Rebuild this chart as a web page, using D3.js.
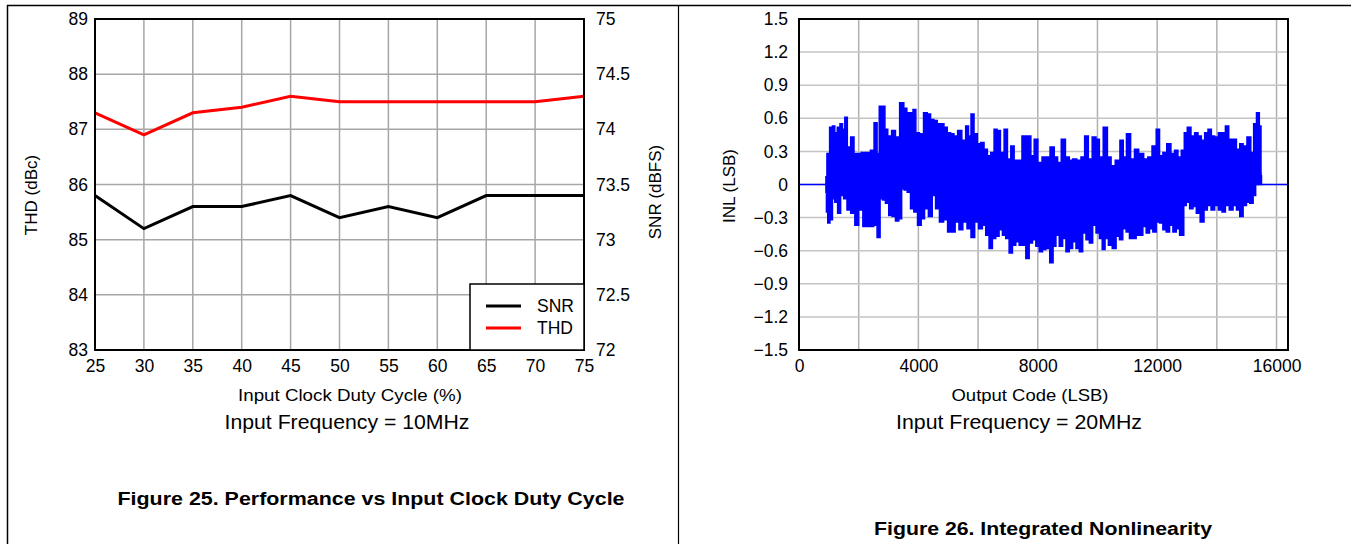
<!DOCTYPE html>
<html>
<head>
<meta charset="utf-8">
<script src="https://cdn.jsdelivr.net/npm/d3@7"></script>
<style>
  html, body { margin: 0; padding: 0; background: #fff; }
  svg { display: block; font-family: "Liberation Sans", Arial, sans-serif; }
</style>
</head>
<body>
<svg id="chart" width="1351" height="544"></svg>
<script>
// ---------- Figure 25 data ----------
const dutyCycle = [25, 30, 35, 40, 45, 50, 55, 60, 65, 70, 75];
const thdValues = [87.3, 86.9, 87.3, 87.4, 87.6, 87.5, 87.5, 87.5, 87.5, 87.5, 87.6];
const snrValues = [73.4, 73.1, 73.3, 73.3, 73.4, 73.2, 73.3, 73.2, 73.4, 73.4, 73.4];
const thdTicks = [83, 84, 85, 86, 87, 88, 89];
const snrTicks = [72, 72.5, 73, 73.5, 74, 74.5, 75];
const seriesNames = ["SNR", "THD"];

// ---------- Figure 26 data (INL envelope) ----------
const inlCodeTicks = [0, 4000, 8000, 12000, 16000];
const inlCodeGrid = [2000, 4000, 6000, 8000, 10000, 12000, 14000, 16000];
const inlTicks = [-1.5, -1.2, -0.9, -0.6, -0.3, 0, 0.3, 0.6, 0.9, 1.2, 1.5];
const inlFlatLeft = [0, 902];
const inlFlatRight = [15496, 16384];
const inlUpperCode = [902,970,1082,1160,1238,1328,1418,1496,1574,1664,1798,1888,2000,2168,2336,2448,2582,2650,2728,2840,2918,3030,3176,3288,3456,3568,3658,3770,3870,3960,4106,4240,4352,4464,4576,4688,4800,4912,5024,5136,5248,5382,5528,5640,5718,5808,5920,6032,6144,6256,6368,6480,6592,6682,6816,6928,7040,7152,7264,7398,7544,7712,7824,7936,8070,8216,8328,8496,8608,8720,8854,9000,9112,9224,9392,9504,9638,9750,9896,10008,10120,10266,10400,10512,10680,10826,10904,11038,11184,11296,11464,11632,11744,11912,12024,12136,12248,12394,12528,12640,12752,12864,12954,13066,13200,13312,13424,13536,13648,13760,13872,13984,14118,14230,14342,14454,14600,14712,14824,14936,15082,15194,15272,15384,15462,15496];
const inlUpper = [0.07,0.28,0.52,0.53,0.47,0.52,0.55,0.50,0.61,0.34,0.43,0.28,0.28,0.29,0.29,0.31,0.56,0.28,0.71,0.71,0.50,0.44,0.49,0.43,0.74,0.69,0.65,0.65,0.68,0.47,0.46,0.65,0.64,0.59,0.58,0.55,0.55,0.52,0.47,0.46,0.44,0.49,0.40,0.53,0.44,0.64,0.46,0.37,0.38,0.32,0.26,0.29,0.50,0.49,0.29,0.50,0.23,0.35,0.22,0.22,0.44,0.44,0.26,0.41,0.20,0.25,0.25,0.34,0.25,0.20,0.41,0.25,0.22,0.23,0.22,0.25,0.44,0.23,0.43,0.41,0.25,0.52,0.25,0.17,0.22,0.40,0.25,0.46,0.23,0.32,0.28,0.23,0.25,0.35,0.50,0.26,0.29,0.37,0.28,0.31,0.25,0.31,0.47,0.52,0.44,0.47,0.44,0.40,0.47,0.50,0.44,0.43,0.47,0.47,0.53,0.41,0.41,0.32,0.37,0.35,0.43,0.29,0.55,0.65,0.53,0.08];
const inlLowerCode = [902,936,992,1082,1160,1238,1350,1440,1552,1664,1798,1944,2056,2224,2336,2448,2560,2672,2762,2840,2952,3064,3176,3288,3400,3478,3568,3680,3792,3904,4038,4150,4262,4408,4520,4632,4778,4912,5046,5158,5304,5416,5562,5696,5830,5942,6088,6200,6312,6424,6536,6648,6760,6872,6984,7096,7208,7320,7432,7544,7656,7768,7880,7992,8104,8216,8328,8474,8552,8664,8776,8888,9000,9112,9224,9336,9448,9560,9672,9784,9896,10008,10120,10198,10310,10422,10568,10680,10792,10904,11016,11128,11240,11352,11464,11576,11688,11800,11912,12024,12136,12248,12360,12472,12584,12696,12808,12864,12920,13032,13144,13256,13368,13514,13626,13738,13872,13984,14118,14230,14342,14488,14600,14712,14824,14936,15048,15160,15272,15328,15440,15496];
const inlLower = [-0.07,-0.25,-0.35,-0.32,-0.13,-0.16,-0.26,-0.10,-0.13,-0.23,-0.26,-0.37,-0.23,-0.38,-0.38,-0.38,-0.37,-0.48,-0.13,-0.14,-0.17,-0.28,-0.29,-0.33,-0.31,-0.04,-0.05,-0.07,-0.22,-0.25,-0.37,-0.31,-0.22,-0.29,-0.10,-0.22,-0.34,-0.32,-0.43,-0.43,-0.34,-0.41,-0.34,-0.40,-0.48,-0.34,-0.40,-0.37,-0.46,-0.58,-0.49,-0.47,-0.41,-0.46,-0.49,-0.62,-0.55,-0.52,-0.55,-0.55,-0.67,-0.53,-0.50,-0.56,-0.61,-0.59,-0.58,-0.71,-0.56,-0.46,-0.56,-0.49,-0.61,-0.58,-0.52,-0.58,-0.61,-0.44,-0.50,-0.53,-0.37,-0.44,-0.49,-0.59,-0.49,-0.55,-0.58,-0.47,-0.50,-0.40,-0.43,-0.49,-0.49,-0.46,-0.46,-0.38,-0.44,-0.40,-0.43,-0.34,-0.35,-0.41,-0.43,-0.37,-0.43,-0.40,-0.46,-0.46,-0.19,-0.16,-0.22,-0.20,-0.26,-0.34,-0.23,-0.19,-0.23,-0.19,-0.23,-0.25,-0.19,-0.23,-0.19,-0.23,-0.29,-0.19,-0.16,-0.17,-0.10,0.02,0.10,0.00];

const svg = d3.select("#chart");
const FONT = "Liberation Sans, Arial, sans-serif";

// ---------- Frame ----------
svg.append("line").attr("x1", 7).attr("x2", 1351).attr("y1", 5.5).attr("y2", 5.5).attr("stroke", "#000").attr("stroke-width", 1.5);
svg.append("line").attr("x1", 7.5).attr("x2", 7.5).attr("y1", 5).attr("y2", 544).attr("stroke", "#000").attr("stroke-width", 1.5);
svg.append("line").attr("x1", 678.5).attr("x2", 678.5).attr("y1", 5).attr("y2", 544).attr("stroke", "#000").attr("stroke-width", 1.2);

// ---------- Figure 25 ----------
(function () {
  const L = 95, R = 584, T = 19, B = 350;
  const x = d3.scaleLinear().domain([25, 75]).range([L, R]);
  const yL = d3.scaleLinear().domain([83, 89]).range([B, T]);
  const yR = d3.scaleLinear().domain([72, 75]).range([B, T]);
  const g = svg.append("g");

  g.append("g").selectAll("line").data(dutyCycle).join("line")
    .attr("x1", d => x(d)).attr("x2", d => x(d)).attr("y1", T).attr("y2", B)
    .attr("stroke", "#a6a6a6").attr("stroke-width", 1.5);
  g.append("g").selectAll("line").data(thdTicks).join("line")
    .attr("x1", L).attr("x2", R).attr("y1", d => yL(d)).attr("y2", d => yL(d))
    .attr("stroke", "#a6a6a6").attr("stroke-width", 1.5);

  const ax = g.append("g").attr("transform", `translate(0,${B})`)
    .call(d3.axisBottom(x).tickValues(dutyCycle).tickSize(0).tickPadding(10).tickFormat(d3.format("d")));
  const ayl = g.append("g").attr("transform", `translate(${L},0)`)
    .call(d3.axisLeft(yL).tickValues(thdTicks).tickSize(0).tickPadding(7).tickFormat(d3.format("d")));
  const ayr = g.append("g").attr("transform", `translate(${R},0)`)
    .call(d3.axisRight(yR).tickValues(snrTicks).tickSize(0).tickPadding(12).tickFormat(d => d3.format("")(d)));
  [ax, ayl, ayr].forEach(a => {
    a.select(".domain").remove();
    a.selectAll("text").attr("font-size", 17.5).attr("font-family", FONT).attr("fill", "#000");
  });

  const lineThd = d3.line().x((d, i) => x(dutyCycle[i])).y(d => yL(d));
  const lineSnr = d3.line().x((d, i) => x(dutyCycle[i])).y(d => yR(d));
  g.append("path").datum(thdValues).attr("d", lineThd).attr("fill", "none").attr("stroke", "#ff0000").attr("stroke-width", 3);
  g.append("path").datum(snrValues).attr("d", lineSnr).attr("fill", "none").attr("stroke", "#000").attr("stroke-width", 3);

  g.append("rect").attr("x", L).attr("y", T).attr("width", R - L).attr("height", B - T)
    .attr("fill", "none").attr("stroke", "#000").attr("stroke-width", 2);

  const lg = g.append("g");
  lg.append("rect").attr("x", 470).attr("y", 284).attr("width", R - 470).attr("height", B - 284)
    .attr("fill", "#fff").attr("stroke", "#000").attr("stroke-width", 1.5);
  const colors = ["#000", "#ff0000"];
  seriesNames.forEach((n, i) => {
    const yy = 306 + i * 22;
    lg.append("line").attr("x1", 486).attr("x2", 521).attr("y1", yy).attr("y2", yy)
      .attr("stroke", colors[i]).attr("stroke-width", 3);
    lg.append("text").attr("x", 537).attr("y", yy + 6).attr("font-size", 17.5).attr("font-family", FONT).text(n);
  });

  g.append("text").attr("transform", `translate(37,195) rotate(-90)`).attr("text-anchor", "middle")
    .attr("font-size", 17).attr("font-family", FONT).text("THD (dBc)");
  g.append("text").attr("transform", `translate(661,192) rotate(-90)`).attr("text-anchor", "middle")
    .attr("font-size", 17).attr("font-family", FONT).text("SNR (dBFS)");
  g.append("text").attr("x", 350).attr("y", 401).attr("text-anchor", "middle")
    .attr("font-size", 17).attr("font-family", FONT)
    .attr("textLength", 224).attr("lengthAdjust", "spacingAndGlyphs").text("Input Clock Duty Cycle  (%)");
  g.append("text").attr("x", 347).attr("y", 429).attr("text-anchor", "middle")
    .attr("font-size", 21).attr("font-family", FONT)
    .attr("textLength", 245).attr("lengthAdjust", "spacingAndGlyphs").text("Input Frequency = 10MHz");
  g.append("text").attr("x", 371).attr("y", 505).attr("text-anchor", "middle")
    .attr("font-size", 18).attr("font-weight", "bold").attr("font-family", FONT)
    .attr("textLength", 507).attr("lengthAdjust", "spacingAndGlyphs").text("Figure 25. Performance vs Input Clock Duty Cycle");
})();

// ---------- Figure 26 ----------
(function () {
  const L = 799, R = 1288, T = 19, B = 350;
  const x = d3.scaleLinear().domain([0, 16384]).range([L, R]);
  const y = d3.scaleLinear().domain([-1.5, 1.5]).range([B, T]);
  const g = svg.append("g");

  g.append("g").selectAll("line").data(inlCodeGrid).join("line")
    .attr("x1", d => x(d)).attr("x2", d => x(d)).attr("y1", T).attr("y2", B)
    .attr("stroke", "#b0b0b0").attr("stroke-width", 1.5);
  g.append("g").selectAll("line").data(inlTicks).join("line")
    .attr("x1", L).attr("x2", R).attr("y1", d => y(d)).attr("y2", d => y(d))
    .attr("stroke", "#c4c4c4").attr("stroke-width", 1.5);

  const fmtY = d => d === 0 ? "0" : d3.format(".1f")(d).replace("-", "\u2212");
  const ax = g.append("g").attr("transform", `translate(0,${B})`)
    .call(d3.axisBottom(x).tickValues(inlCodeTicks).tickSize(0).tickPadding(10).tickFormat(d3.format("d")));
  const ay = g.append("g").attr("transform", `translate(${L},0)`)
    .call(d3.axisLeft(y).tickValues(inlTicks).tickSize(0).tickPadding(11).tickFormat(fmtY));
  [ax, ay].forEach(a => {
    a.select(".domain").remove();
    a.selectAll("text").attr("font-size", 17.5).attr("font-family", FONT).attr("fill", "#000");
  });

  const blue = "#0000ff";
  [inlFlatLeft, inlFlatRight].forEach(seg => {
    g.append("line").attr("x1", x(seg[0])).attr("x2", x(seg[1])).attr("y1", y(0)).attr("y2", y(0))
      .attr("stroke", blue).attr("stroke-width", 1.5);
  });
  const upArea = d3.area().curve(d3.curveStep).x((d, i) => x(inlUpperCode[i])).y0(y(0)).y1(d => y(d));
  const loArea = d3.area().curve(d3.curveStep).x((d, i) => x(inlLowerCode[i])).y0(y(0)).y1(d => y(d));
  g.append("path").datum(inlUpper).attr("d", upArea).attr("fill", blue).attr("stroke", blue).attr("stroke-width", 1.5);
  g.append("path").datum(inlLower).attr("d", loArea).attr("fill", blue).attr("stroke", blue).attr("stroke-width", 1.5);

  g.append("rect").attr("x", L).attr("y", T).attr("width", R - L).attr("height", B - T)
    .attr("fill", "none").attr("stroke", "#000").attr("stroke-width", 2);

  g.append("text").attr("transform", `translate(735,186) rotate(-90)`).attr("text-anchor", "middle")
    .attr("font-size", 17).attr("font-family", FONT).text("INL (LSB)");
  g.append("text").attr("x", 1030).attr("y", 401).attr("text-anchor", "middle")
    .attr("font-size", 17).attr("font-family", FONT)
    .attr("textLength", 157).attr("lengthAdjust", "spacingAndGlyphs").text("Output Code (LSB)");
  g.append("text").attr("x", 1019).attr("y", 429).attr("text-anchor", "middle")
    .attr("font-size", 21).attr("font-family", FONT)
    .attr("textLength", 246).attr("lengthAdjust", "spacingAndGlyphs").text("Input Frequency = 20MHz");
  g.append("text").attr("x", 1043).attr("y", 535).attr("text-anchor", "middle")
    .attr("font-size", 18).attr("font-weight", "bold").attr("font-family", FONT)
    .attr("textLength", 338).attr("lengthAdjust", "spacingAndGlyphs").text("Figure 26. Integrated Nonlinearity");
})();
</script>
</body>
</html>
